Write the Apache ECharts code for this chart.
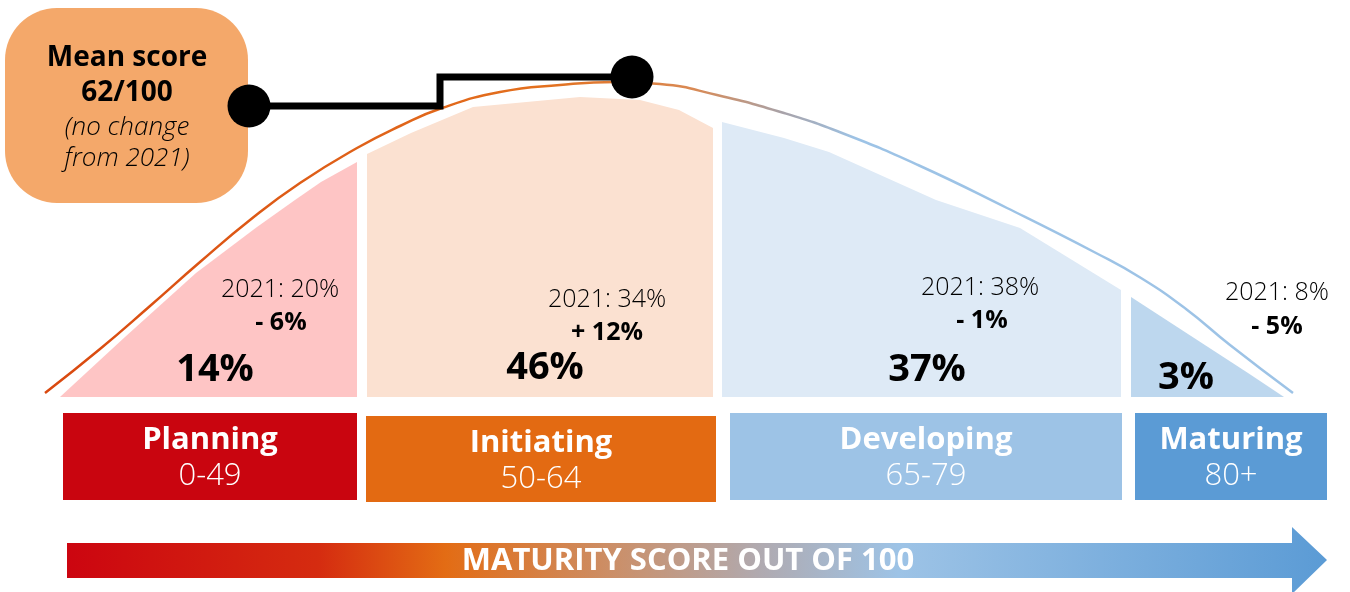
<!DOCTYPE html>
<html><head><meta charset="utf-8">
<script src="https://cdn.jsdelivr.net/npm/echarts@6/dist/echarts.min.js"></script>
<style>html,body{margin:0;padding:0;background:#fff}#c{width:1350px;height:592px}</style>
</head><body><div id="c"></div>
<script>
// ---------- data ----------
const stages = ['Planning', 'Initiating', 'Developing', 'Maturing'];
const scoreRanges = ['0-49', '50-64', '65-79', '80+'];
const share2022 = [14, 46, 37, 3];
const share2021 = [20, 34, 38, 8];
const meanScore = 62;
const meanNote = ['(no change', 'from 2021)'];
const axisTitle = 'MATURITY SCORE OUT OF 100';
// bell curve outline (position along the scale, height above baseline)
const curveX = [45, 100, 150, 200, 250, 300, 357, 400, 442, 500, 560, 616, 660, 717, 784, 842, 918, 1007, 1096, 1141, 1186, 1230, 1293];
const curveY = [4, 48, 91, 135, 177, 214, 249, 271, 289, 305, 312, 315, 313, 302, 284, 264, 232, 189, 144, 119, 88, 52, 4];
// filled stage shapes under the curve
const planningX = [60, 125, 196, 257, 295, 321, 357];
const planningY = [0, 60, 124, 170, 197, 215, 235];
const initiatingX = [367, 411, 473, 580, 640, 679, 713];
const initiatingY = [243, 264, 290, 300, 297, 287, 269];
const developingX = [722, 784, 829, 936, 1020, 1121];
const developingY = [275, 259, 245, 197, 169, 107];
const maturingX = [1131, 1248, 1284];
const maturingY = [100, 24, 0];

// ---------- layout & style ----------
const fillColors = ['#FEC5C5', '#FBE1D1', '#DEEAF6', '#BDD7EE'];
const boxColors = ['#C9050F', '#E36A12', '#9DC3E6', '#5B9BD5'];
const boxSpan = [[63, 357], [366, 716], [730, 1122], [1135, 1327]];
const boxTop = [-16, -19, -16, -16];
const boxBottom = [-103, -105, -103, -103];
const labelPrev = [[280, 107], [607, 97], [980, 109], [1277, 104]];
const labelChange = [[281, 74], [607, 64], [982, 76], [1277, 70]];
const labelShare = [[215, 27], [545, 29], [927, 27], [1186, 19]];
const meanLink = [[249, 291], [440, 291], [440, 320], [632, 320]];
const F = "'Open Sans', 'Noto Sans', sans-serif";

function pairs(xs, ys) { return xs.map((x, i) => [x, ys[i]]); }
function fmtChange(d) { return (d < 0 ? '- ' : '+ ') + Math.abs(d) + '%'; }

const fills = [[planningX, planningY], [initiatingX, initiatingY], [developingX, developingY], [maturingX, maturingY]];

const chart = echarts.init(document.getElementById('c'), null, { renderer: 'canvas' });

const series = [];
fills.forEach((f, i) => {
  series.push({
    type: 'line', name: stages[i], data: pairs(f[0], f[1]), smooth: false,
    symbol: 'none', lineStyle: { width: 0 }, areaStyle: { color: fillColors[i], opacity: 1 },
    z: 1, silent: true
  });
});
series.push({
  type: 'line', name: 'curve', data: pairs(curveX, curveY), smooth: 0.5, symbol: 'none',
  lineStyle: {
    width: 2.5,
    color: { type: 'linear', x: 0, y: 0, x2: 1, y2: 0, colorStops: [
      { offset: 0, color: '#D9480F' }, { offset: 0.4, color: '#E3701E' },
      { offset: 0.52, color: '#D98A55' }, { offset: 0.59, color: '#A8A2A8' },
      { offset: 0.65, color: '#9DC3E6' }, { offset: 1, color: '#9DC3E6' }] }
  }, z: 3, silent: true
});
// connector to mean score
series.push({
  type: 'line', name: 'mean', data: meanLink, smooth: false, symbol: 'circle',
  symbolSize: (v, p) => (p.dataIndex === 0 || p.dataIndex === meanLink.length - 1) ? 43 : 0,
  itemStyle: { color: '#000' }, lineStyle: { width: 7, color: '#000', join: 'miter' }, z: 6, silent: true
});
// stage texts under curve
series.push({
  type: 'custom', name: 'labels', data: stages.map((s, i) => [i]),
  renderItem: (params, api) => {
    const i = api.value(0);
    const a = api.coord(labelPrev[i]), b = api.coord(labelChange[i]), c = api.coord(labelShare[i]);
    return { type: 'group', children: [
      { type: 'text', x: a[0], y: a[1], style: { text: '2021: ' + share2021[i] + '%', fill: '#000', font: '300 25px ' + F, align: 'center', verticalAlign: 'middle' } },
      { type: 'text', x: b[0], y: b[1], style: { text: fmtChange(share2022[i] - share2021[i]), fill: '#000', font: '700 25px ' + F, align: 'center', verticalAlign: 'middle' } },
      { type: 'text', x: c[0], y: c[1], style: { text: share2022[i] + '%', fill: '#000', font: '700 38px ' + F, align: 'center', verticalAlign: 'middle' } }
    ] };
  }, z: 5, silent: true
});
// stage boxes
series.push({
  type: 'custom', name: 'boxes', data: stages.map((s, i) => [i]),
  renderItem: (params, api) => {
    const i = api.value(0);
    const p0 = api.coord([boxSpan[i][0], boxTop[i]]);
    const p1 = api.coord([boxSpan[i][1], boxBottom[i]]);
    const cx = (p0[0] + p1[0]) / 2;
    return { type: 'group', children: [
      { type: 'rect', shape: { x: p0[0], y: p0[1], width: p1[0] - p0[0], height: p1[1] - p0[1] }, style: { fill: boxColors[i] } },
      { type: 'text', x: cx, y: p0[1] + 27, style: { text: stages[i], fill: '#fff', font: '700 31px ' + F, align: 'center', verticalAlign: 'middle' } },
      { type: 'text', x: cx, y: p0[1] + 63, style: { text: scoreRanges[i], fill: '#fff', font: '300 31px ' + F, align: 'center', verticalAlign: 'middle' } }
    ] };
  }, z: 5, silent: true
});

chart.setOption({
  animation: false,
  backgroundColor: '#fff',
  grid: { left: 0, right: 0, top: 0, bottom: 0 },
  xAxis: { type: 'value', min: 0, max: 1350, show: false },
  yAxis: { type: 'value', min: -195, max: 397, show: false },
  series: series,
  graphic: [
    { type: 'rect', left: 5, top: 8, shape: { width: 243, height: 195, r: 52 }, style: { fill: '#F4A86A' }, z: 4 },
    { type: 'text', x: 127, y: 58, style: { text: 'Mean score', fill: '#000', font: '700 28px ' + F, align: 'center', verticalAlign: 'middle' }, z: 7 },
    { type: 'text', x: 127, y: 93, style: { text: meanScore + '/100', fill: '#000', font: '700 28px ' + F, align: 'center', verticalAlign: 'middle' }, z: 7 },
    { type: 'text', x: 127, y: 128, style: { text: meanNote[0], fill: '#000', font: 'italic 300 26px ' + F, align: 'center', verticalAlign: 'middle' }, z: 7 },
    { type: 'text', x: 127, y: 159, style: { text: meanNote[1], fill: '#000', font: 'italic 300 26px ' + F, align: 'center', verticalAlign: 'middle' }, z: 7 },
    { type: 'polygon', shape: { points: [[67, 543], [1292, 543], [1292, 527], [1327, 560], [1292, 594], [1292, 578], [67, 578]] },
      style: { fill: { type: 'linear', x: 0, y: 0, x2: 1, y2: 0, colorStops: [
        { offset: 0, color: '#CC0510' }, { offset: 0.2, color: '#D52C10' }, { offset: 0.3, color: '#E36C14' },
        { offset: 0.43, color: '#CC8E66' }, { offset: 0.55, color: '#B0AAB0' }, { offset: 0.66, color: '#9DC3E6' },
        { offset: 1, color: '#5B9BD5' }] } }, z: 4 },
    { type: 'text', x: 688, y: 561, style: { text: axisTitle, fill: '#fff', font: '700 31px ' + F, align: 'center', verticalAlign: 'middle' }, z: 7 }
  ]
});
</script>
</body></html>
